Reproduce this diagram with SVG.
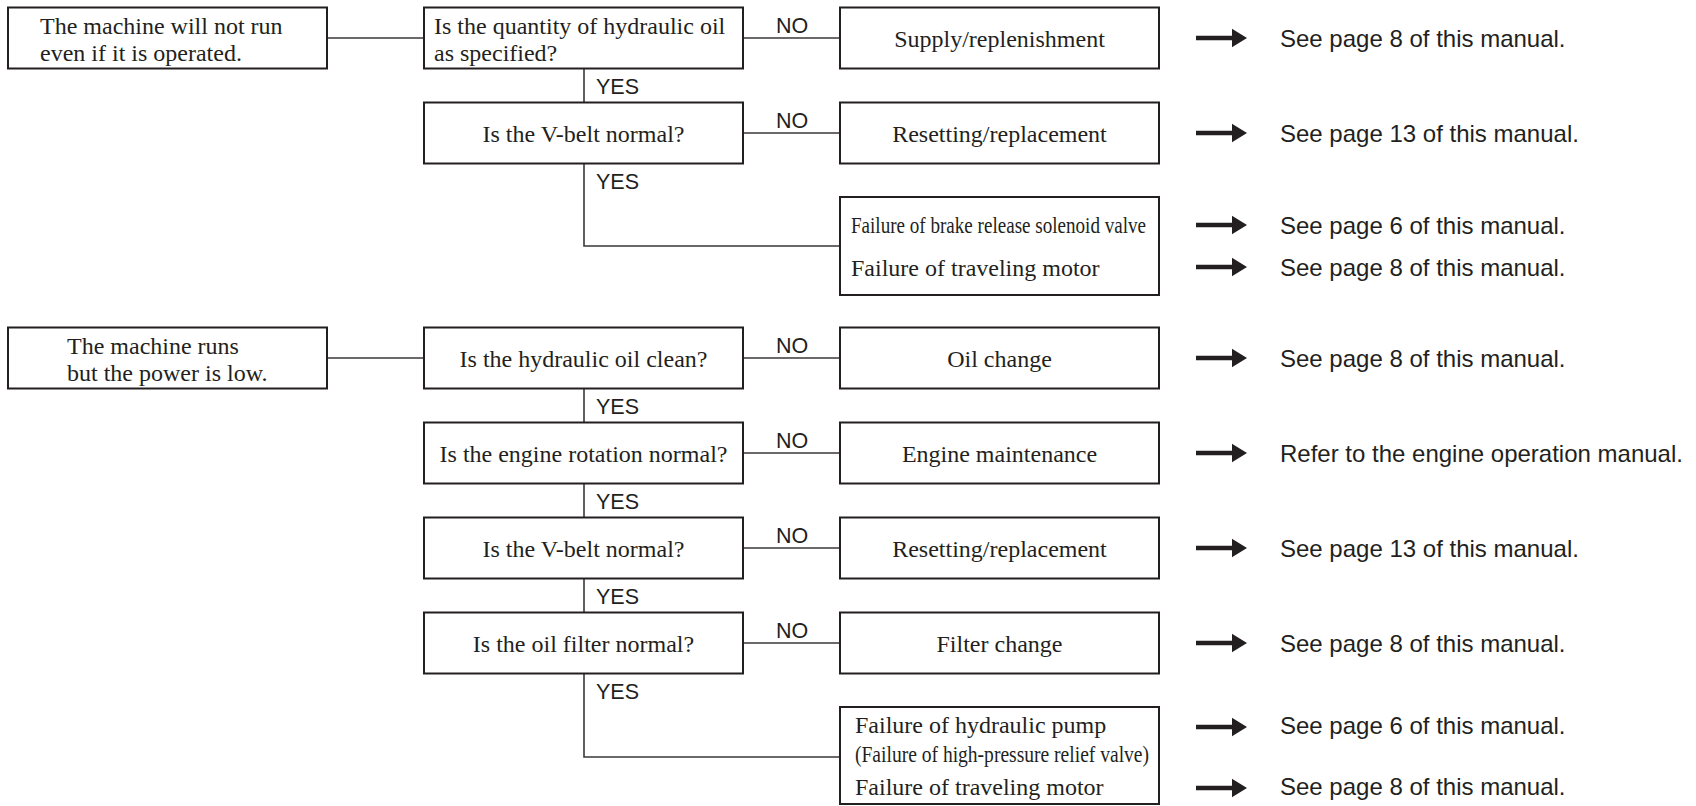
<svg xmlns="http://www.w3.org/2000/svg" xmlns:xlink="http://www.w3.org/1999/xlink" width="1696" height="806" viewBox="0 0 1696 806">
  <style>
    .box { fill: #ffffff; stroke: #231f20; stroke-width: 2; }
    .ln { fill: none; stroke: #3a3738; stroke-width: 1.6; }
    .serif { font-family: "Liberation Serif", "Times New Roman", serif; font-size: 24px; fill: #231f20; }
    .sans { font-family: "Liberation Sans", Arial, sans-serif; font-size: 24px; fill: #231f20; }
    .lbl { font-family: "Liberation Sans", Arial, sans-serif; font-size: 21.5px; fill: #231f20; }
    .mid { text-anchor: middle; }
  </style>
  <defs>
    <g id="arrow">
      <line x1="0" y1="0" x2="38" y2="0" stroke="#231f20" stroke-width="4.5"/>
      <polygon points="36,-9.2 51,0 36,9.2" fill="#231f20"/>
    </g>
  </defs>
  <rect width="1696" height="806" fill="#ffffff"/>

  <!-- connectors -->
  <g id="connectors">
    <line class="ln" x1="327" y1="38" x2="424" y2="38"/>
    <line class="ln" x1="743" y1="38" x2="840" y2="38"/>
    <line class="ln" x1="584" y1="68.5" x2="584" y2="102.5"/>
    <line class="ln" x1="743" y1="133" x2="840" y2="133"/>
    <polyline class="ln" points="584,163.5 584,246 840,246"/>

    <line class="ln" x1="327" y1="358" x2="424" y2="358"/>
    <line class="ln" x1="743" y1="358" x2="840" y2="358"/>
    <line class="ln" x1="584" y1="388.5" x2="584" y2="422.5"/>
    <line class="ln" x1="743" y1="453" x2="840" y2="453"/>
    <line class="ln" x1="584" y1="483.5" x2="584" y2="517.5"/>
    <line class="ln" x1="743" y1="548" x2="840" y2="548"/>
    <line class="ln" x1="584" y1="578.5" x2="584" y2="612.5"/>
    <line class="ln" x1="743" y1="643" x2="840" y2="643"/>
    <polyline class="ln" points="584,673.5 584,757 840,757"/>

    <text class="lbl mid" x="792" y="32.5">NO</text>
    <text class="lbl mid" x="792" y="127.5">NO</text>
    <text class="lbl" x="596" y="93.5">YES</text>
    <text class="lbl" x="596" y="188.5">YES</text>
    <text class="lbl mid" x="792" y="352.5">NO</text>
    <text class="lbl mid" x="792" y="447.5">NO</text>
    <text class="lbl mid" x="792" y="542.5">NO</text>
    <text class="lbl mid" x="792" y="637.5">NO</text>
    <text class="lbl" x="596" y="413.5">YES</text>
    <text class="lbl" x="596" y="508.5">YES</text>
    <text class="lbl" x="596" y="603.5">YES</text>
    <text class="lbl" x="596" y="698.5">YES</text>

    <use xlink:href="#arrow" href="#arrow" transform="translate(1196,38)"/>
    <use xlink:href="#arrow" href="#arrow" transform="translate(1196,133)"/>
    <use xlink:href="#arrow" href="#arrow" transform="translate(1196,225)"/>
    <use xlink:href="#arrow" href="#arrow" transform="translate(1196,267)"/>
    <use xlink:href="#arrow" href="#arrow" transform="translate(1196,358)"/>
    <use xlink:href="#arrow" href="#arrow" transform="translate(1196,453)"/>
    <use xlink:href="#arrow" href="#arrow" transform="translate(1196,548)"/>
    <use xlink:href="#arrow" href="#arrow" transform="translate(1196,643)"/>
    <use xlink:href="#arrow" href="#arrow" transform="translate(1196,727)"/>
    <use xlink:href="#arrow" href="#arrow" transform="translate(1196,788)"/>
  </g>

  <!-- Group 1 -->
  <g id="symptom1">
    <rect class="box" x="8" y="7.5" width="319" height="61"/>
    <text class="serif" x="40" y="33.5">The machine will not run</text>
    <text class="serif" x="40" y="60.5">even if it is operated.</text>
  </g>
  <g id="q1">
    <rect class="box" x="424" y="7.5" width="319" height="61"/>
    <text class="serif" x="434" y="33.5">Is the quantity of hydraulic oil</text>
    <text class="serif" x="434" y="60.5">as specified?</text>
  </g>
  <g id="r1">
    <rect class="box" x="840" y="7.5" width="319" height="61"/>
    <text class="serif mid" x="999.5" y="46.5">Supply/replenishment</text>
  </g>
  <g id="ref1">
    <text class="sans" x="1280" y="46.5">See page 8 of this manual.</text>
  </g>
  <g id="q2">
    <rect class="box" x="424" y="102.5" width="319" height="61"/>
    <text class="serif mid" x="583.5" y="141.5">Is the V-belt normal?</text>
  </g>
  <g id="r2">
    <rect class="box" x="840" y="102.5" width="319" height="61"/>
    <text class="serif mid" x="999.5" y="141.5">Resetting/replacement</text>
  </g>
  <g id="ref2">
    <text class="sans" x="1280" y="141.5">See page 13 of this manual.</text>
  </g>
  <g id="r3">
    <rect class="box" x="840" y="197" width="319" height="98"/>
    <text class="serif" x="851" y="233" textLength="295" lengthAdjust="spacingAndGlyphs">Failure of brake release solenoid valve</text>
    <text class="serif" x="851" y="275.5">Failure of traveling motor</text>
  </g>
  <g id="ref3">
    <text class="sans" x="1280" y="233.5">See page 6 of this manual.</text>
    <text class="sans" x="1280" y="275.5">See page 8 of this manual.</text>
  </g>

  <!-- Group 2 -->
  <g id="symptom2">
    <rect class="box" x="8" y="327.5" width="319" height="61"/>
    <text class="serif" x="67" y="353.5">The machine runs</text>
    <text class="serif" x="67" y="380.5">but the power is low.</text>
  </g>
  <g id="q3">
    <rect class="box" x="424" y="327.5" width="319" height="61"/>
    <text class="serif mid" x="583.5" y="366.5">Is the hydraulic oil clean?</text>
  </g>
  <g id="r4">
    <rect class="box" x="840" y="327.5" width="319" height="61"/>
    <text class="serif mid" x="999.5" y="366.5">Oil change</text>
  </g>
  <g id="ref4">
    <text class="sans" x="1280" y="366.5">See page 8 of this manual.</text>
  </g>
  <g id="q4">
    <rect class="box" x="424" y="422.5" width="319" height="61"/>
    <text class="serif mid" x="583.5" y="461.5">Is the engine rotation normal?</text>
  </g>
  <g id="r5">
    <rect class="box" x="840" y="422.5" width="319" height="61"/>
    <text class="serif mid" x="999.5" y="461.5">Engine maintenance</text>
  </g>
  <g id="ref5">
    <text class="sans" x="1280" y="461.5">Refer to the engine operation manual.</text>
  </g>
  <g id="q5">
    <rect class="box" x="424" y="517.5" width="319" height="61"/>
    <text class="serif mid" x="583.5" y="556.5">Is the V-belt normal?</text>
  </g>
  <g id="r6">
    <rect class="box" x="840" y="517.5" width="319" height="61"/>
    <text class="serif mid" x="999.5" y="556.5">Resetting/replacement</text>
  </g>
  <g id="ref6">
    <text class="sans" x="1280" y="556.5">See page 13 of this manual.</text>
  </g>
  <g id="q6">
    <rect class="box" x="424" y="612.5" width="319" height="61"/>
    <text class="serif mid" x="583.5" y="651.5">Is the oil filter normal?</text>
  </g>
  <g id="r7">
    <rect class="box" x="840" y="612.5" width="319" height="61"/>
    <text class="serif mid" x="999.5" y="651.5">Filter change</text>
  </g>
  <g id="ref7">
    <text class="sans" x="1280" y="651.5">See page 8 of this manual.</text>
  </g>
  <g id="r8">
    <rect class="box" x="840" y="707" width="319" height="97"/>
    <text class="serif" x="855" y="733">Failure of hydraulic pump</text>
    <text class="serif" x="855" y="762" font-size="23" textLength="294" lengthAdjust="spacingAndGlyphs">(Failure of high-pressure relief valve)</text>
    <text class="serif" x="855" y="795">Failure of traveling motor</text>
  </g>
  <g id="ref8">
    <text class="sans" x="1280" y="733.5">See page 6 of this manual.</text>
    <text class="sans" x="1280" y="795">See page 8 of this manual.</text>
  </g>
</svg>
